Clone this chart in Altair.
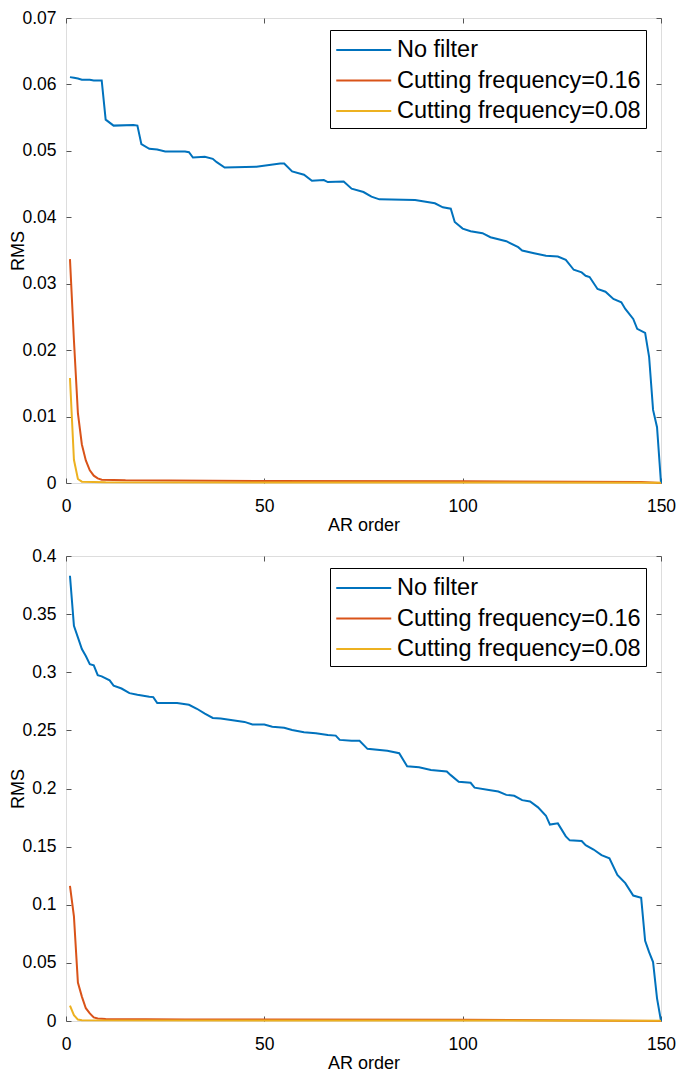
import altair as alt
import pandas as pd

# ---------------- data ----------------
series_names = ["No filter", "Cutting frequency=0.16", "Cutting frequency=0.08"]
series_colors = ["#0072BD", "#D95319", "#EDB120"]

ar_ticks = [0, 50, 100, 150]
top_y_ticks = [0, 0.01, 0.02, 0.03, 0.04, 0.05, 0.06, 0.07]
bottom_y_ticks = [0, 0.05, 0.1, 0.15, 0.2, 0.25, 0.3, 0.35, 0.4]

# top panel
top_nofilter_x = [1, 2, 3, 4, 5, 6, 7, 9, 10, 12, 17, 18, 19, 21, 23, 25, 30, 31, 32, 35, 37, 38, 40,
                  48, 54, 55, 57, 60, 62, 65, 66, 70, 72, 75, 77, 79, 88, 93, 95, 97, 98, 100, 102,
                  105, 107, 111, 114, 115, 118, 121, 124, 126, 128, 130, 131, 132, 134, 136, 138,
                  140, 141, 143, 144, 146, 147, 148, 149, 150]
top_nofilter_y = [0.0611, 0.0610, 0.0609, 0.0607, 0.0607, 0.0607, 0.0606, 0.0606, 0.0547, 0.0538,
                  0.0539, 0.0538, 0.0510, 0.0503, 0.0502, 0.0499, 0.0499, 0.0498, 0.0490, 0.0491,
                  0.0488, 0.0483, 0.0475, 0.0476, 0.0481, 0.0481, 0.0469, 0.0464, 0.0455, 0.0456,
                  0.0453, 0.0454, 0.0443, 0.0438, 0.0431, 0.0427, 0.0426, 0.0421, 0.0415, 0.0413,
                  0.0393, 0.0383, 0.0379, 0.0376, 0.0370, 0.0364, 0.0355, 0.0350, 0.0346, 0.0342,
                  0.0341, 0.0336, 0.0321, 0.0317, 0.0312, 0.0310, 0.0292, 0.0288, 0.0277, 0.0272,
                  0.0262, 0.0247, 0.0232, 0.0226, 0.0190, 0.0110, 0.0084, 0.0]
top_f16_x = [1, 2, 3, 4, 5, 6, 7, 8, 9, 15, 50, 100, 145, 150]
top_f16_y = [0.0337, 0.0215, 0.0105, 0.0058, 0.0034, 0.0019, 0.0011, 0.0007, 0.0005, 0.0004,
             0.0003, 0.00025, 0.00015, 0.0]
top_f08_x = [1, 2, 3, 4, 10, 150]
top_f08_y = [0.0158, 0.0035, 0.0006, 0.0002, 0.0001, 0.00005]

# bottom panel
bot_nofilter_x = [1, 2, 3, 4, 5, 6, 7, 8, 9, 11, 12, 14, 16, 18, 21, 22, 23, 28, 31, 33, 35, 37, 39,
                  42, 45, 47, 50, 52, 55, 57, 60, 63, 66, 68, 69, 72, 74, 76, 81, 84, 86, 89, 92,
                  96, 97, 99, 102, 103, 107, 109, 111, 113, 115, 117, 119, 121, 122, 124, 126, 127,
                  130, 131, 133, 135, 137, 139, 141, 143, 145, 146, 147, 148, 149, 150]
bot_nofilter_y = [0.383, 0.340, 0.330, 0.320, 0.314, 0.307, 0.306, 0.2975, 0.2965, 0.293, 0.2885,
                  0.286, 0.282, 0.2806, 0.279, 0.2786, 0.2735, 0.2735, 0.272, 0.2686, 0.2644,
                  0.2607, 0.2602, 0.2587, 0.2573, 0.255, 0.255, 0.2531, 0.2522, 0.2503, 0.2483,
                  0.2475, 0.246, 0.2455, 0.2418, 0.241, 0.241, 0.2341, 0.2324, 0.2304, 0.2191,
                  0.2182, 0.2160, 0.2146, 0.2115, 0.2058, 0.2049, 0.2007, 0.1985, 0.1974, 0.1945,
                  0.1937, 0.1900, 0.1889, 0.1838, 0.1766, 0.1690, 0.1700, 0.1588, 0.1554, 0.1548,
                  0.1512, 0.1475, 0.1427, 0.1399, 0.1257, 0.1186, 0.1079, 0.1059, 0.0690, 0.0592,
                  0.0507, 0.0195, 0.0]
bot_f16_x = [1, 2, 3, 4, 5, 6, 7, 8, 10, 30, 100, 150]
bot_f16_y = [0.1163, 0.090, 0.0331, 0.021, 0.011, 0.0065, 0.0031, 0.0022, 0.0017, 0.0013, 0.0010, 0.0]
bot_f08_x = [1, 2, 3, 4, 150]
bot_f08_y = [0.0133, 0.005, 0.0012, 0.0006, 0.0003]

# ---------------- layout ----------------
W, H = 595, 465
FONT = "Liberation Sans"
BOX = "#7f7f7f"
TICK = "#555555"
LEGEND_LINE = "M-1,0H3"   # horizontal stroke starting at the symbol column's left edge


def make_df(parts):
    rows = []
    for name, xs, ys in parts:
        for xv, yv in zip(xs, ys):
            rows.append({"order": xv, "rms": yv, "series": name})
    return pd.DataFrame(rows)


def panel(df, ymax, yticks):
    xs = alt.Scale(domain=[0, 150], nice=False, zero=False)
    ys = alt.Scale(domain=[0, ymax], nice=False, zero=False)

    lines = alt.Chart(df).mark_line(strokeWidth=2).encode(
        x=alt.X("order:Q", scale=xs, axis=alt.Axis(
            values=ar_ticks, title="AR order", ticks=False, domain=False, grid=False,
            labelFlush=False, labelPadding=14, titleY=33, titleFontSize=18, titleFont=FONT,
            titleFontWeight="normal", labelFontSize=17.5, labelFont=FONT, labelColor="black",
            titleColor="black")),
        y=alt.Y("rms:Q", scale=ys, axis=alt.Axis(
            values=yticks, format=".2~f", title="RMS", ticks=False, domain=False, grid=False,
            labelPadding=10, titleX=-39, titleFontSize=18, titleFont=FONT,
            titleFontWeight="normal", labelFontSize=17.5, labelFont=FONT, labelColor="black",
            titleColor="black")),
        color=alt.Color("series:N", sort=series_names,
                        scale=alt.Scale(domain=series_names, range=series_colors),
                        legend=alt.Legend(
                            orient="none", legendX=264, legendY=12, title=None,
                            symbolType=LEGEND_LINE, symbolSize=756, symbolStrokeWidth=2,
                            labelFontSize=23.5, labelFont=FONT, labelColor="black",
                            labelLimit=400, labelOffset=32, rowPadding=3.5, padding=5,
                            strokeColor="black", fillColor="white", cornerRadius=0)),
        order=alt.Order("order:Q"),
    )

    ticks_bottom_left = alt.Chart(df).mark_line(strokeOpacity=0).encode(
        x=alt.X("order:Q", scale=xs, axis=alt.Axis(
            orient="top", offset=-H, values=ar_ticks, labels=False, domain=False,
            ticks=True, tickSize=5, tickColor=TICK, grid=False, title=None)),
        y=alt.Y("rms:Q", scale=ys, axis=alt.Axis(
            orient="right", offset=-W, values=yticks, labels=False, domain=False,
            ticks=True, tickSize=5, tickColor=TICK, grid=False, title=None)),
        detail="series:N",
    )
    ticks_top_right = alt.Chart(df).mark_line(strokeOpacity=0).encode(
        x=alt.X("order:Q", scale=xs, axis=alt.Axis(
            orient="bottom", offset=-H, values=ar_ticks, labels=False, domain=False,
            ticks=True, tickSize=5, tickColor=TICK, grid=False, title=None)),
        y=alt.Y("rms:Q", scale=ys, axis=alt.Axis(
            orient="left", offset=-W, values=yticks, labels=False, domain=False,
            ticks=True, tickSize=5, tickColor=TICK, grid=False, title=None)),
        detail="series:N",
    )
    return alt.layer(lines, ticks_bottom_left, ticks_top_right).resolve_axis(
        x="independent", y="independent").properties(width=W, height=H)


top_df = make_df([
    (series_names[0], top_nofilter_x, top_nofilter_y),
    (series_names[1], top_f16_x, top_f16_y),
    (series_names[2], top_f08_x, top_f08_y),
])
bot_df = make_df([
    (series_names[0], bot_nofilter_x, bot_nofilter_y),
    (series_names[1], bot_f16_x, bot_f16_y),
    (series_names[2], bot_f08_x, bot_f08_y),
])

chart = alt.vconcat(
    panel(top_df, 0.07, top_y_ticks),
    panel(bot_df, 0.4, bottom_y_ticks),
    spacing=73, bounds="flush",
).resolve_scale(color="independent").properties(
    padding={"left": 0, "top": 0, "right": 0, "bottom": 0},
).configure_view(stroke=BOX, strokeWidth=1).configure(background="white")

chart.save("out.html", embed_options={"renderer": "svg", "actions": False})
